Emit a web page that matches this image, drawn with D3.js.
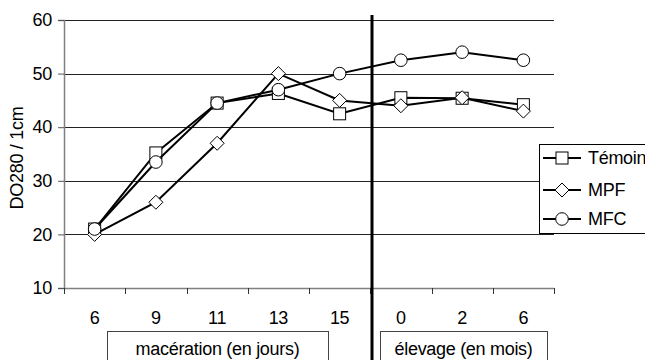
<!DOCTYPE html>
<html>
<head>
<meta charset="utf-8">
<script src="https://cdn.jsdelivr.net/npm/d3@7"></script>
<style>
  html, body { margin: 0; padding: 0; background: #fff; }
  svg { display: block; }
  text { font-family: "Liberation Sans", Arial, sans-serif; font-size: 18px; letter-spacing: -0.3px; fill: #000; }
</style>
</head>
<body>
<svg id="chart" width="645" height="360"></svg>
<script>
// ---- data ----
const categories = ["6", "9", "11", "13", "15", "0", "2", "6"];
const temoin = [21, 35.2, 44.5, 46.3, 42.5, 45.5, 45.4, 44.2];
const mpf    = [20, 26, 37, 50, 45, 44, 45.5, 43];
const mfc    = [21, 33.5, 44.5, 47, 50, 52.5, 54, 52.5];
const yTicks = [10, 20, 30, 40, 50, 60];
const seriesNames = ["Témoin", "MPF", "MFC"];
const seriesSymbols = ["square", "diamond", "circle"];
const groupLabels = ["macération (en jours)", "élevage (en mois)"];

// ---- layout ----
const svg = d3.select("#chart");
const pLeft = 64, pRight = 554, pTop = 20, pBottom = 288;

const x = d3.scaleBand().domain(d3.range(categories.length)).range([pLeft, pRight]).paddingInner(0).paddingOuter(0);
const y = d3.scaleLinear().domain([10, 60]).range([pBottom, pTop]);

// gridlines
svg.append("g").selectAll("line").data(yTicks.filter(d => d > 10)).join("line")
  .attr("x1", pLeft).attr("x2", pRight)
  .attr("y1", d => Math.round(y(d)) + 0.5).attr("y2", d => Math.round(y(d)) + 0.5)
  .attr("stroke", "#222").attr("stroke-width", 1);

// y axis
const yAxis = svg.append("g").attr("transform", `translate(${pLeft},0)`)
  .call(d3.axisLeft(y).tickValues(yTicks).tickSize(6).tickPadding(6).tickFormat(d3.format("d")));
yAxis.select(".domain").attr("stroke", "#808080").attr("stroke-width", 1.5);
yAxis.selectAll(".tick line").attr("stroke", "#555");
yAxis.selectAll("text").style("font-size", "18px").style("font-family", "'Liberation Sans', Arial, sans-serif");

// x axis (ticks at category boundaries)
const xAxisG = svg.append("g");
xAxisG.append("line").attr("x1", pLeft).attr("x2", pRight).attr("y1", pBottom + 0.5).attr("y2", pBottom + 0.5)
  .attr("stroke", "#808080").attr("stroke-width", 1.5);
const boundaries = d3.range(categories.length + 1).map(i => i < categories.length ? x(i) : x(categories.length - 1) + x.bandwidth());
xAxisG.selectAll("line.tk").data(boundaries).join("line").attr("class", "tk")
  .attr("x1", d => Math.round(d) + 0.5).attr("x2", d => Math.round(d) + 0.5)
  .attr("y1", pBottom).attr("y2", pBottom + 6).attr("stroke", "#333");
xAxisG.selectAll("text").data(categories).join("text")
  .attr("x", (d, i) => x(i) + x.bandwidth() / 2).attr("y", 324)
  .attr("text-anchor", "middle").text(d => d);

// y label
svg.append("text").attr("transform", `translate(23,${(pTop + pBottom) / 2 + 4}) rotate(-90)`)
  .attr("text-anchor", "middle").text("DO280 / 1cm");

// group boxes
const groups = [
  { label: groupLabels[0], x0: 107, x1: 328 },
  { label: groupLabels[1], x0: 380, x1: 547 }
];
groups.forEach(g => {
  svg.append("rect").attr("x", g.x0 + 0.5).attr("y", 331.5).attr("width", g.x1 - g.x0).attr("height", 40)
    .attr("fill", "none").attr("stroke", "#444").attr("stroke-width", 1);
  svg.append("text").attr("x", (g.x0 + g.x1) / 2).attr("y", 355).attr("text-anchor", "middle").text(g.label);
});

// series
const allSeries = [temoin, mpf, mfc];
const line = d3.line().x((d, i) => x(i) + x.bandwidth() / 2).y(d => y(d));

function drawMarker(sel, type, cx, cy) {
  if (type === "square") {
    sel.append("rect").attr("x", cx - 6).attr("y", cy - 6).attr("width", 12).attr("height", 12)
      .attr("fill", "#fff").attr("stroke", "#000").attr("stroke-width", 1);
  } else if (type === "diamond") {
    sel.append("path").attr("d", `M${cx},${cy - 7}L${cx + 7},${cy}L${cx},${cy + 7}L${cx - 7},${cy}Z`)
      .attr("fill", "#fff").attr("stroke", "#000").attr("stroke-width", 1);
  } else {
    sel.append("circle").attr("cx", cx).attr("cy", cy).attr("r", 6.3)
      .attr("fill", "#fff").attr("stroke", "#000").attr("stroke-width", 1);
  }
}

allSeries.forEach((vals, si) => {
  const g = svg.append("g");
  g.append("path").datum(vals).attr("d", line).attr("fill", "none")
    .attr("stroke", "#000").attr("stroke-width", 2);
  vals.forEach((v, i) => drawMarker(g, seriesSymbols[si], x(i) + x.bandwidth() / 2, y(v)));
});

// vertical separator
svg.append("line").attr("x1", 372).attr("x2", 372).attr("y1", 15).attr("y2", 362)
  .attr("stroke", "#000").attr("stroke-width", 3);

// legend
const lg = svg.append("g");
lg.append("rect").attr("x", 539.5).attr("y", 144.5).attr("width", 110).attr("height", 89)
  .attr("fill", "#fff").attr("stroke", "#000").attr("stroke-width", 1);
const legendY = [158, 190, 219];
seriesNames.forEach((n, i) => {
  const ly = legendY[i];
  lg.append("line").attr("x1", 543).attr("x2", 581).attr("y1", ly).attr("y2", ly)
    .attr("stroke", "#000").attr("stroke-width", 2);
  drawMarker(lg, seriesSymbols[i], 562, ly);
  lg.append("text").attr("x", 588).attr("y", ly + 6).text(n);
});
</script>
</body>
</html>
